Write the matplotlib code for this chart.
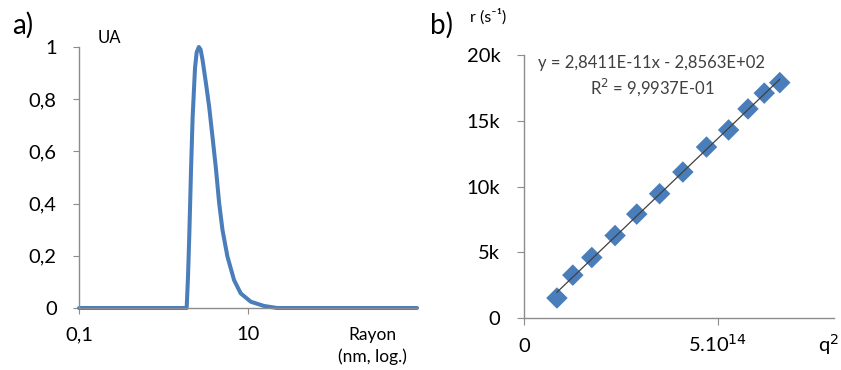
import matplotlib
matplotlib.use("Agg")
import matplotlib.pyplot as plt
import numpy as np

plt.rcParams['font.family'] = ['Lato', 'DejaVu Sans']

# Panel a: size distribution (radius in nm, log scale)
radius_nm = [0.1, 1.0, 1.88, 1.95, 2.02, 2.12, 2.21, 2.36, 2.47, 2.62, 2.75, 2.90,
             3.18, 3.47, 3.80, 4.17, 4.56, 4.99, 5.71, 6.84, 8.20, 10.8, 15.4,
             22.1, 100, 1000]
intensity = [0.0, 0.0, 0.0, 0.12, 0.28, 0.536, 0.728, 0.92, 0.98, 1.0, 0.99, 0.95,
             0.861, 0.771, 0.656, 0.535, 0.401, 0.299, 0.197, 0.107, 0.056, 0.024,
             0.008, 0.0, 0.0, 0.0]
a_xticks = [0.1, 10]
a_xticklabels = ['0,1', '10']
a_yticks = [0, 0.2, 0.4, 0.6, 0.8, 1.0]
a_yticklabels = ['0', '0,2', '0,4', '0,6', '0,8', '1']

# Panel b: relaxation rate vs q^2
q2 = [0.85e14, 1.26e14, 1.75e14, 2.35e14, 2.91e14, 3.50e14, 4.10e14, 4.71e14,
      5.28e14, 5.78e14, 6.20e14, 6.60e14]
rate = [1520, 3260, 4600, 6270, 7900, 9450, 11100, 13000, 14300, 15900, 17100, 17900]
b_yticks = [0, 5000, 10000, 15000, 20000]
b_yticklabels = ['0', '5k', '10k', '15k', '20k']
b_xticks = [0, 5e14]
b_xticklabels = ['0', r'5.10$^{14}$']

W, H = 841, 370
fig = plt.figure(figsize=(W / 100, H / 100), dpi=100)

def fx(px):
    return px / W

def fy(py):
    return 1 - py / H

axis_gray = '#8c8c8c'
blue = '#4a7ebb'
label_fs = 14.5

# ---------- Panel a ----------
ax1 = fig.add_axes([fx(79), fy(308), fx(417) - fx(79), fy(47) - fy(308)])
ax1.plot(radius_nm, intensity, color=blue, lw=2.9, solid_capstyle='round',
         solid_joinstyle='round', clip_on=False)
ax1.set_xscale('log')
ax1.set_xlim(0.1, 1000)
ax1.set_ylim(0, 1)
ax1.set_xticks(a_xticks)
ax1.set_xticklabels(a_xticklabels)
ax1.xaxis.set_minor_locator(matplotlib.ticker.NullLocator())
ax1.set_yticks(a_yticks)
ax1.set_yticklabels(a_yticklabels)
for s in ['top', 'right']:
    ax1.spines[s].set_visible(False)
for s in ['left', 'bottom']:
    ax1.spines[s].set_color(axis_gray)
    ax1.spines[s].set_linewidth(1.0)
ax1.tick_params(axis='y', length=4, color=axis_gray, pad=12, labelsize=label_fs)
ax1.tick_params(axis='x', length=4, color=axis_gray, pad=9, labelsize=label_fs)

fig.text(fx(23), fy(25), 'a)', fontsize=20, ha='center', va='center')
fig.text(fx(109), fy(38), 'UA', fontsize=12, ha='center', va='center')
fig.text(fx(372), fy(340), 'Rayon', fontsize=12.5, ha='center', va='baseline')
fig.text(fx(372), fy(362), '(nm, log.)', fontsize=12.5, ha='center', va='baseline')

# ---------- Panel b ----------
ax2 = fig.add_axes([fx(524), fy(318), fx(834) - fx(524), fy(55) - fy(318)])
coef = np.polyfit(q2, rate, 1)
xf = np.array([min(q2), max(q2)])
ax2.plot(xf, np.polyval(coef, xf), color='#404040', lw=0.9, zorder=3)
ax2.scatter(q2, rate, marker='D', s=120, color=blue, edgecolors='none', zorder=2)
ax2.set_xlim(0, 8e14)
ax2.set_ylim(0, 20000)
ax2.set_xticks(b_xticks)
ax2.set_xticklabels([])
ax2.set_yticks(b_yticks)
ax2.set_yticklabels(b_yticklabels)
for s in ['top', 'right']:
    ax2.spines[s].set_visible(False)
for s in ['left', 'bottom']:
    ax2.spines[s].set_color(axis_gray)
    ax2.spines[s].set_linewidth(1.0)
ax2.tick_params(axis='y', length=5, color=axis_gray, pad=12, labelsize=label_fs)
ax2.tick_params(axis='x', length=5, color=axis_gray, labelsize=label_fs)
# x tick labels placed on a common baseline below the axis
btrans = matplotlib.transforms.blended_transform_factory(ax2.transData, fig.transFigure)
for xv, lab in zip(b_xticks, b_xticklabels):
    fig.text(xv, fy(352), lab, transform=btrans, fontsize=label_fs,
             ha='center', va='baseline')

fig.text(fx(442), fy(25), 'b)', fontsize=20, ha='center', va='center')
fig.text(fx(488), fy(17), 'r (s⁻¹)', fontsize=11.5, ha='center', va='center')
fig.text(fx(828), fy(352), r'q$^{2}$', fontsize=14.5, ha='center', va='baseline')
fig.text(fx(652), fy(63), 'y = 2,8411E-11x - 2,8563E+02', fontsize=12,
         ha='center', va='center', color='#404040')
fig.text(fx(652), fy(87), r'R$^{2}$ = 9,9937E-01', fontsize=12,
         ha='center', va='center', color='#404040')

fig.savefig('out.png', dpi=100)
